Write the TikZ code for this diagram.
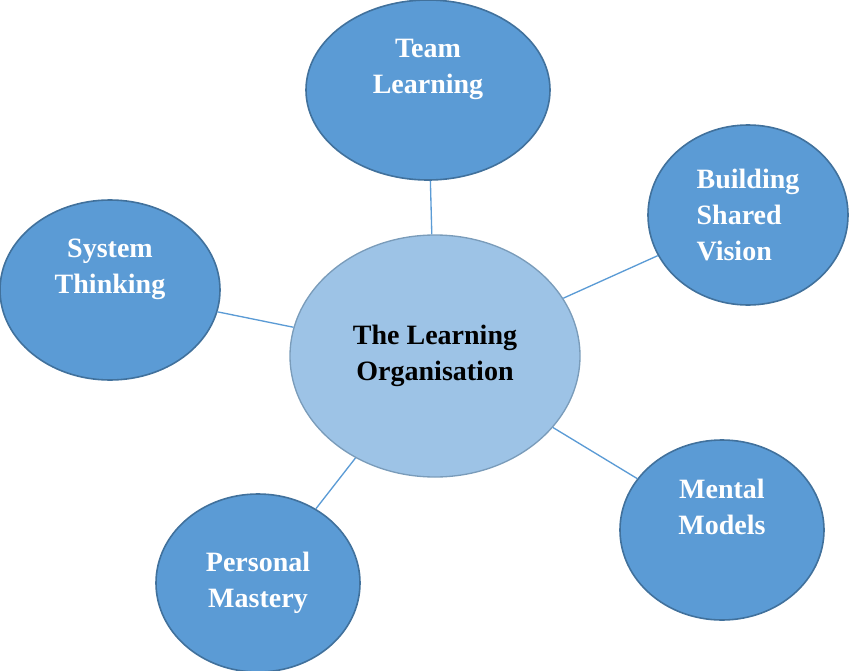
\documentclass[tikz,border=0pt]{standalone}
\usepackage{fontspec}
\setmainfont{Liberation Serif}
\usetikzlibrary{shapes.geometric}
\definecolor{outerfill}{HTML}{5B9BD5}
\definecolor{outerdraw}{HTML}{41719C}
\definecolor{centerfill}{HTML}{9DC3E6}
\definecolor{linkcol}{HTML}{5B9BD5}
\begin{document}
\begin{tikzpicture}[x=0.75pt,y=-0.75pt,
  outer/.style={ellipse,draw=outerdraw,line width=1.2pt,fill=outerfill,text=white,font=\fontsize{21}{27}\selectfont\bfseries,align=center,inner sep=0pt},
  inner/.style={ellipse,draw=outerdraw!70,line width=1pt,fill=centerfill,text=black,font=\fontsize{21}{27}\selectfont\bfseries,align=center,inner sep=0pt},
  link/.style={draw=linkcol,line width=1pt}]
\useasboundingbox (0,0) rectangle (850,671);
\node[inner,minimum width=0.75*290,minimum height=0.75*242] (c) at (435,356) {The Learning\\Organisation};
\node[outer,minimum width=0.75*244,minimum height=0.75*180] (t) at (428,90) {Team\\Learning\\[8pt]};
\node[outer,minimum width=0.75*200,minimum height=0.75*180,align=left] (b) at (748,215) {Building\\Shared\\Vision};
\node[outer,minimum width=0.75*220,minimum height=0.75*180] (s) at (110,290) {System\\Thinking\\[8pt]};
\node[outer,minimum width=0.75*204,minimum height=0.75*180] (m) at (722,530) {Mental\\Models\\[8pt]};
\node[outer,minimum width=0.75*204,minimum height=0.75*178] (p) at (258,583) {Personal\\Mastery};
\draw[link] (c) -- (t);
\draw[link] (c) -- (b);
\draw[link] (c) -- (s);
\draw[link] (c) -- (m);
\draw[link] (c) -- (p);
\end{tikzpicture}
\end{document}
